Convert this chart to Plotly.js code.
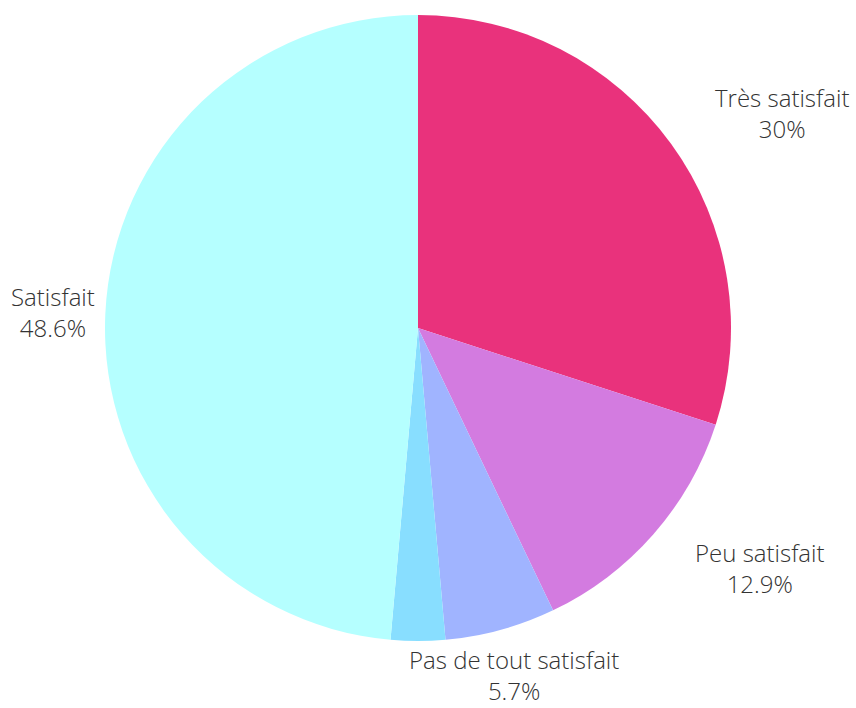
<!DOCTYPE html>
<html>
<head>
<meta charset="utf-8">
<script src="https://cdn.plot.ly/plotly-3.0.1.min.js"></script>
<style>html,body{margin:0;padding:0;background:#fff;}#chart{width:856px;height:708px;}</style>
</head>
<body>
<div id="chart"></div>
<script>
const labels = ["Très satisfait", "Peu satisfait", "Pas de tout satisfait", "Sans réponse", "Satisfait"];
const values = [30, 12.9, 5.7, 2.8, 48.6];
const valueText = ["30%", "12.9%", "5.7%", "", "48.6%"];
const colors = ["#E9327C", "#D37BE0", "#A0B4FF", "#88DEFF", "#B5FFFF"];
const showText = [true, true, true, false, true];

const W = 856, H = 708;
const cx = 418, cy = 328, r = 313;   // pie centre and radius in pixels
const labelDist = r * 1.166;
const halfLabelH = 33;               // keep two-line labels inside the page

// pie domain (paper fractions, margins are zero)
const domain = {
  x: [(cx - r) / W, (cx + r) / W],
  y: [(H - cy - r) / H, (H - cy + r) / H]
};

// outside labels placed along each slice's mid-angle
const total = values.reduce((a, b) => a + b, 0);
let cum = 0;
const annotations = [];
values.forEach((v, i) => {
  const mid = cum + v / 2;
  cum += v;
  if (!showText[i]) return;
  const th = 2 * Math.PI * mid / total;
  const px = cx + labelDist * Math.sin(th);
  let py = cy - labelDist * Math.cos(th);
  py = Math.min(Math.max(py, halfLabelH), H - halfLabelH);
  annotations.push({
    xref: "paper", yref: "paper",
    x: px / W, y: 1 - py / H,
    xanchor: Math.sin(th) > 0.5 ? "left" : "center",
    yanchor: "middle",
    align: "center",
    showarrow: false,
    text: labels[i] + "<br>" + valueText[i],
    font: {family: "Open Sans", size: 24, color: "#333", weight: 300}
  });
});

Plotly.newPlot("chart", [{
  type: "pie",
  labels: labels,
  values: values,
  sort: false,
  direction: "clockwise",
  rotation: 0,
  domain: domain,
  marker: {colors: colors, line: {width: 0}},
  textinfo: "none",
  showlegend: false,
  hoverinfo: "none"
}], {
  width: W, height: H,
  margin: {l: 0, r: 0, t: 0, b: 0},
  paper_bgcolor: "#fff",
  showlegend: false,
  annotations: annotations
}, {displayModeBar: false, staticPlot: true});
</script>
</body>
</html>
